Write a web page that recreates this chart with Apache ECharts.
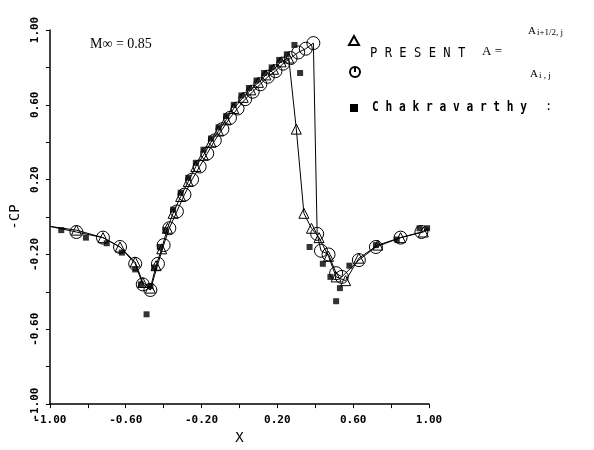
<!DOCTYPE html>
<html>
<head>
<meta charset="utf-8">
<script src="https://cdn.jsdelivr.net/npm/echarts@6/dist/echarts.min.js"></script>
<style>
  html, body { margin: 0; padding: 0; background: #fff; }
  #chart { width: 594px; height: 450px; }
</style>
</head>
<body>
<div id="chart"></div>
<script>
// tick labels shown on both axes (other ticks stay blank)
const tickLabels = [-1.00, -0.60, -0.20, 0.20, 0.60, 1.00]

// PRESENT, A = A(i+1/2,j)  -> triangles
const presentHalf = [
  [-1.00, -0.05], [-0.86, -0.07], [-0.72, -0.11], [-0.63, -0.16], [-0.55, -0.24],
  [-0.51, -0.35], [-0.47, -0.38], [-0.44, -0.26], [-0.41, -0.17], [-0.38, -0.06],
  [-0.35, 0.02], [-0.31, 0.11], [-0.27, 0.19], [-0.23, 0.27], [-0.19, 0.33],
  [-0.15, 0.40], [-0.11, 0.46], [-0.07, 0.52], [-0.03, 0.58], [0.02, 0.64],
  [0.06, 0.68], [0.10, 0.72], [0.14, 0.76], [0.18, 0.79], [0.22, 0.83],
  [0.26, 0.85], [0.30, 0.47], [0.34, 0.02], [0.38, -0.06], [0.42, -0.11],
  [0.47, -0.21], [0.51, -0.32], [0.56, -0.34], [0.63, -0.22], [0.73, -0.15],
  [0.85, -0.11], [0.97, -0.08], [1.00, -0.06]
]

// PRESENT, A = A(i,j)  -> circles
const presentCell = [
  [-1.00, -0.05], [-0.86, -0.08], [-0.72, -0.11], [-0.63, -0.16], [-0.55, -0.25],
  [-0.51, -0.36], [-0.47, -0.39], [-0.43, -0.25], [-0.40, -0.15], [-0.37, -0.06],
  [-0.33, 0.03], [-0.29, 0.12], [-0.25, 0.20], [-0.21, 0.27], [-0.17, 0.34],
  [-0.13, 0.41], [-0.09, 0.47], [-0.05, 0.53], [-0.01, 0.58], [0.03, 0.63],
  [0.07, 0.67], [0.11, 0.71], [0.15, 0.75], [0.19, 0.78], [0.23, 0.82],
  [0.27, 0.85], [0.31, 0.88], [0.35, 0.90], [0.39, 0.93], [0.41, -0.09],
  [0.43, -0.18], [0.47, -0.20], [0.51, -0.30], [0.54, -0.32], [0.63, -0.23],
  [0.72, -0.16], [0.85, -0.11], [0.96, -0.08], [1.00, -0.06]
]

// Chakravarthy -> filled squares
const chakravarthy = [
  [-0.94, -0.07], [-0.81, -0.11], [-0.70, -0.14], [-0.62, -0.19], [-0.55, -0.28],
  [-0.52, -0.36], [-0.49, -0.52], [-0.47, -0.37], [-0.45, -0.27], [-0.42, -0.16],
  [-0.39, -0.07], [-0.35, 0.04], [-0.31, 0.13], [-0.27, 0.21], [-0.23, 0.29],
  [-0.19, 0.36], [-0.15, 0.42], [-0.11, 0.48], [-0.07, 0.54], [-0.03, 0.60],
  [0.01, 0.65], [0.05, 0.69], [0.09, 0.73], [0.13, 0.77], [0.17, 0.80],
  [0.21, 0.84], [0.25, 0.87], [0.29, 0.92], [0.32, 0.77], [0.37, -0.16],
  [0.44, -0.25], [0.48, -0.32], [0.51, -0.45], [0.53, -0.38], [0.58, -0.26],
  [0.72, -0.15], [0.83, -0.12], [0.95, -0.06], [0.99, -0.06]
]

const monoFont = '"DejaVu Sans Mono", "Liberation Mono", monospace'
const serifFont = '"Liberation Serif", "DejaVu Serif", serif'

function tickLabel(v) {
  let hit = tickLabels.find(t => Math.abs(t - v) < 1e-6)
  return hit === undefined ? '' : hit.toFixed(2)
}

// no marker on the two end points of a line
function withBareEnds(points) {
  return points.map((p, i) => (i === 0 || i === points.length - 1) ? { value: p, symbol: 'none' } : p)
}

function axisCommon() {
  return {
    type: 'value',
    min: -1,
    max: 1,
    interval: 0.2,
    splitLine: { show: false },
    axisLine: { show: true, onZero: false, lineStyle: { color: '#000', width: 1.5 } },
    axisTick: { show: true, inside: false, length: 4, lineStyle: { color: '#000', width: 1 } },
    axisLabel: {
      formatter: tickLabel,
      color: '#000',
      fontFamily: monoFont,
      fontWeight: 'bold',
      fontSize: 11,
      margin: 9
    },
    nameTextStyle: { color: '#000', fontFamily: monoFont, fontSize: 14 }
  }
}

let xAxis = axisCommon()
xAxis.name = 'X'
xAxis.nameLocation = 'middle'
xAxis.nameGap = 24
xAxis.axisLabel.margin = 11

let yAxis = axisCommon()
yAxis.name = '-CP'
yAxis.nameLocation = 'middle'
yAxis.nameGap = 24
yAxis.nameRotate = 90
yAxis.axisLabel.rotate = 90

let option = {
  animation: false,
  backgroundColor: '#fff',
  grid: { left: 48, right: 165, top: 30, bottom: 37 },
  xAxis: xAxis,
  yAxis: yAxis,
  series: [
    {
      name: 'half',
      type: 'line',
      data: withBareEnds(presentHalf),
      symbol: 'triangle',
      symbolSize: 10,
      showAllSymbol: true,
      lineStyle: { color: '#000', width: 1 },
      itemStyle: { color: 'rgba(255,255,255,0)', borderColor: '#000', borderWidth: 1 }
    },
    {
      name: 'cell',
      type: 'line',
      data: withBareEnds(presentCell),
      symbol: 'circle',
      symbolSize: 13,
      showAllSymbol: true,
      lineStyle: { color: '#000', width: 1 },
      itemStyle: { color: 'rgba(255,255,255,0)', borderColor: '#000', borderWidth: 1 }
    },
    {
      name: 'chakravarthy',
      type: 'scatter',
      data: chakravarthy,
      symbol: 'rect',
      symbolSize: 6,
      itemStyle: { color: '#000' }
    }
  ],
  graphic: [
    { type: 'text', left: 90, top: 37, style: { text: 'M\u221E = 0.85', font: '14px ' + serifFont, fill: '#000' } },
    // legend
    { type: 'polygon', shape: { points: [[354, 36], [349, 45], [359, 45]] }, style: { fill: '#fff', stroke: '#000', lineWidth: 2 } },
    { type: 'circle', shape: { cx: 355, cy: 72, r: 5 }, style: { fill: '#fff', stroke: '#000', lineWidth: 2 } },
    { type: 'line', shape: { x1: 355, y1: 67, x2: 355, y2: 72 }, style: { stroke: '#000', lineWidth: 2 } },
    { type: 'rect', shape: { x: 350, y: 104, width: 8, height: 8 }, style: { fill: '#000' } },
    { type: 'text', x: 370, y: 46, scaleX: 0.87, style: { text: 'P R E S E N T', font: '14px ' + monoFont, fill: '#000' } },
    { type: 'text', x: 482, y: 45, style: { text: 'A =', font: '13px ' + serifFont, fill: '#000' } },
    { type: 'text', x: 528, y: 26, style: { text: 'A', font: '11px ' + serifFont, fill: '#000' } },
    { type: 'text', x: 537, y: 28, style: { text: 'i+1/2, j', font: '9px ' + serifFont, fill: '#000' } },
    { type: 'text', x: 530, y: 69, style: { text: 'A', font: '11px ' + serifFont, fill: '#000' } },
    { type: 'text', x: 539, y: 71, style: { text: 'i , j', font: '9px ' + serifFont, fill: '#000' } },
    { type: 'text', x: 372, y: 100, scaleX: 0.8, style: { text: 'C h a k r a v a r t h y', font: 'bold 14px ' + monoFont, fill: '#000' } },
    { type: 'text', x: 545, y: 101, style: { text: ':', font: '12px ' + monoFont, fill: '#000' } }
  ]
}

const chart = echarts.init(document.getElementById('chart'))
chart.setOption(option)
</script>
</body>
</html>
